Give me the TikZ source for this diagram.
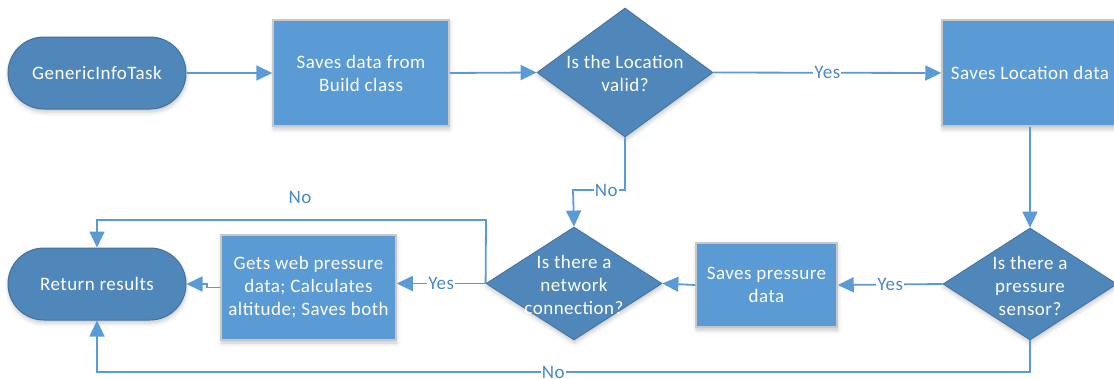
\documentclass[tikz,border=0pt]{standalone}
\usepackage{fontspec}
\setmainfont{Carlito}[LetterSpace=2.5]
\usetikzlibrary{shapes.geometric,arrows.meta,shadows.blur}

\definecolor{procfill}{HTML}{5B9BD5}
\definecolor{termfill}{HTML}{4F87BB}
\definecolor{termline}{HTML}{41719C}
\definecolor{boxline}{HTML}{C8C8C8}
\definecolor{flow}{HTML}{5B9BD5}
\definecolor{flowtext}{HTML}{4A88C7}

\tikzset{
  txt/.style={font=\fontsize{19}{23}\selectfont, text=white, align=center, inner sep=0pt},
  softshadow/.style={blur shadow={shadow xshift=0.5pt, shadow yshift=-3pt,
      shadow blur radius=4pt, shadow opacity=22}},
  proc/.style={txt, rectangle, fill=procfill, draw=boxline, line width=1.5pt, softshadow},
  term/.style={txt, rectangle, rounded corners=36pt, fill=termfill, draw=termline,
      line width=1pt, minimum width=178pt, minimum height=72pt, softshadow},
  decision/.style={diamond, fill=termfill, draw=termline, line width=0.8pt,
      inner sep=0pt, softshadow},
  conn/.style={draw=flow, line width=1.8pt, -{Triangle[length=16pt,width=15pt]}},
  lbl/.style={font=\fontsize{19}{23}\selectfont, text=flowtext, fill=white, inner sep=1pt},
}

\begin{document}
\begin{tikzpicture}[x=1pt,y=-1pt]
\useasboundingbox (0,0) rectangle (1114,378);

% top row
\node[term] (start) at (97,73) {GenericInfoTask};
\node[proc, minimum width=176pt, minimum height=106pt] (build) at (361,73)
  {Saves data from\\Build class};
\node[decision, minimum width=176pt, minimum height=129pt] (locok) at (625,72.5) {};
\node[txt] (locoktxt) at (625,73.5) {Is the Location\\valid?};
\node[proc, minimum width=176pt, minimum height=106pt] (saveloc) at (1030,73)
  {Saves Location data};

% bottom row
\node[decision, minimum width=174pt, minimum height=112pt] (sensor) at (1030,284) {};
\node[txt] (sensortxt) at (1030,285.5) {Is there a\\pressure\\sensor?};
\node[proc, minimum width=141pt, minimum height=84pt] (savepress) at (766.5,285)
  {Saves pressure\\data};
\node[decision, minimum width=176pt, minimum height=113pt] (network) at (574,283.5) {};
\node[txt] (networktxt) at (574,285) {Is there a\\network\\connection?};
\node[proc, minimum width=175pt, minimum height=105pt] (webpress) at (308.5,287.5)
  {Gets web pressure\\data; Calculates\\altitude; Saves both};
\node[term] (result) at (97,284) {Return results};

% bend points
\coordinate (nobend) at (573,190);
\coordinate (netup) at (486,220);
\coordinate (resup) at (97,220);
\coordinate (jogA) at (207,287.5);
\coordinate (jogB) at (207,284);
\coordinate (sensdown) at (1030,372);
\coordinate (resdown) at (97,372);

% connectors
\draw[conn] (start.east) -- (build.west);
\draw[conn] (build.east) -- (locok.west);
\draw[conn] (locok.east) -- node[lbl]{Yes} (saveloc.west);
\draw[conn] (locok.south) |- node[lbl, pos=0.68]{No} (nobend) -- (network.north);
\draw[conn] (saveloc.south) -- (sensor.north);
\draw[conn] (sensor.west) -- node[lbl]{Yes} (savepress.east);
\draw[conn] (savepress.west) -- (network.east);
\draw[conn] (network.west) -- node[lbl]{Yes} (network.west -| webpress.east);
\draw[conn] (webpress.west) -- (jogA) -- (jogB) -- (result.east);
\draw[conn] (network.west) -- (netup) -- node[lbl, pos=0.478, yshift=23pt]{No} (resup)
  -- (result.north);
\draw[conn] (sensor.south) -- (sensdown) -- node[lbl, pos=0.511]{No} (resdown)
  -- (result.south);
\end{tikzpicture}
\end{document}
